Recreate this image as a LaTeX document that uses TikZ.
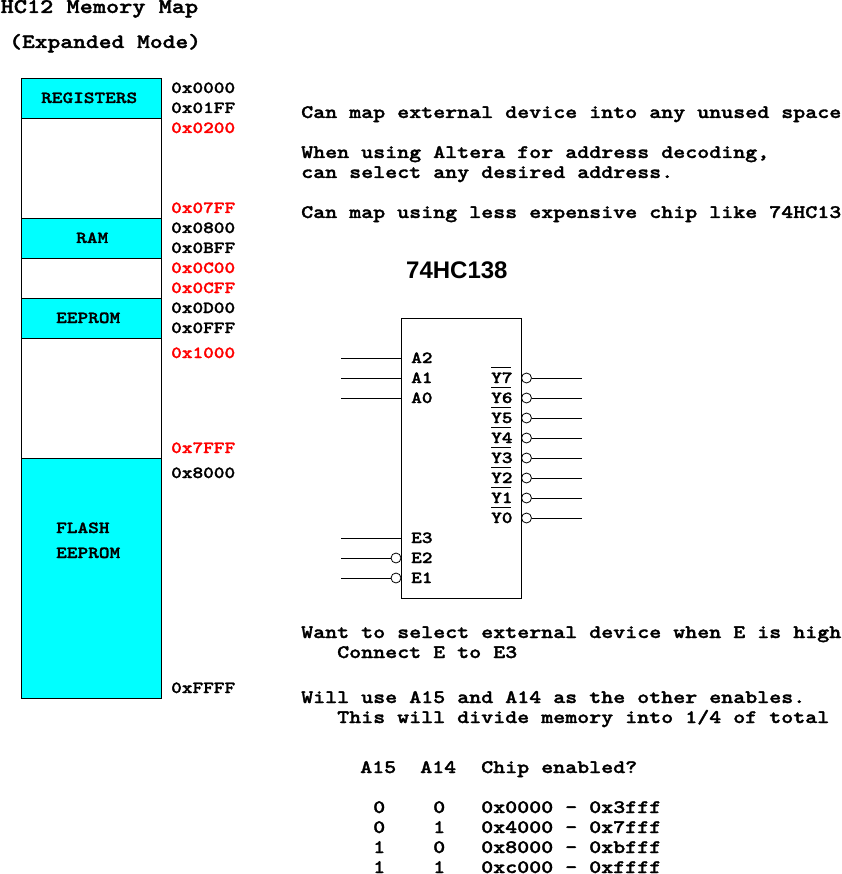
\documentclass[tikz,border=0pt]{standalone}
\usepackage{fontspec}
\setmainfont{Liberation Sans}
\newfontfamily\cour[Extension=.otf,FakeStretch=1.2,FakeBold=1.6]{lmmonolt10-bold}
\newcommand{\bigtxt}{\cour\fontsize{20.9}{24}\selectfont}
\newcommand{\bigtxtb}{\cour\fontsize{20.3}{24}\selectfont}
\newcommand{\midtxt}{\cour\fontsize{19.05}{22}\selectfont}
\newcommand{\smtxt}{\cour\fontsize{16.93}{20}\selectfont}
\newcommand{\ovl}[1]{\rlap{\raisebox{15pt}{\rule{20pt}{1pt}}}#1}
\definecolor{memcyan}{RGB}{0,255,255}
\tikzset{
  x=1pt,y=-1pt,
  title/.style={anchor=base west,inner sep=0,font=\bigtxt},
  titleb/.style={anchor=base west,inner sep=0,font=\bigtxtb},
  txt/.style={anchor=base west,inner sep=0,font=\midtxt},
  small/.style={anchor=base west,inner sep=0,font=\smtxt},
  addr/.style={small},
  addrred/.style={small,text=red},
  used/.style={draw=black,fill=memcyan,line width=1pt,minimum width=140pt,inner sep=0,anchor=north west},
  free/.style={draw=black,fill=white,line width=1pt,minimum width=140pt,inner sep=0,anchor=north west},
  chip/.style={draw=black,line width=1pt,minimum width=120pt,minimum height=280pt,inner sep=0,anchor=north west},
  bubble/.style={circle,draw=black,line width=0.8pt,minimum size=10pt,inner sep=0},
  pin/.style={line width=0.8pt},
}
\begin{document}
\begin{tikzpicture}
\useasboundingbox (0,0) rectangle (841,874);
\node[title] (t1) at (0.5,13) {HC12 Memory Map};
\node[titleb] (t2) at (9,48) {(Expanded Mode)};
% memory blocks
\node[used,minimum height=40pt] (m1) at (21,78) {};
\node[free,minimum height=100pt] (m2) at (21,118) {};
\node[used,minimum height=40pt] (m3) at (21,218) {};
\node[free,minimum height=40pt] (m4) at (21,258) {};
\node[used,minimum height=40pt] (m5) at (21,298) {};
\node[free,minimum height=120pt] (m6) at (21,338) {};
\node[used,minimum height=240pt] (m7) at (21,458) {};
\node[small] (l1) at (41,103) {REGISTERS};
\node[small] (l2) at (76,243) {RAM};
\node[small] (l3) at (56,323) {EEPROM};
\node[small] (l4) at (56,533) {FLASH};
\node[small] (l5) at (56,558) {EEPROM};
% addresses
\node[addr] (a1) at (171,93) {0x0000};
\node[addr] (a2) at (171,113) {0x01FF};
\node[addrred] (a3) at (171,133) {0x0200};
\node[addrred] (a4) at (171,213) {0x07FF};
\node[addr] (a5) at (171,233) {0x0800};
\node[addr] (a6) at (171,253) {0x0BFF};
\node[addrred] (a7) at (171,273) {0x0C00};
\node[addrred] (a8) at (171,293) {0x0CFF};
\node[addr] (a9) at (171,313) {0x0D00};
\node[addr] (a10) at (171,333) {0x0FFF};
\node[addrred] (a11) at (171,358) {0x1000};
\node[addrred] (a12) at (171,453) {0x7FFF};
\node[addr] (a13) at (171,478) {0x8000};
\node[addr] (a14) at (171,693) {0xFFFF};
% notes
\node[txt] (n1) at (301,118) {Can map external device into any unused space};
\node[txt] (n2) at (301,158) {When using Altera for address decoding,};
\node[txt] (n3) at (301,178) {can select any desired address.};
\node[txt] (n4) at (301,218) {Can map using less expensive chip like 74HC13};
\node[anchor=base west,inner sep=0,font=\bfseries\fontsize{24}{26}\selectfont] (ct) at (406,278) {74HC138};
% chip
\node[chip] (chip) at (401,318) {};
\foreach \n/\y in {A2/358,A1/378,A0/398,E3/538,E2/558,E1/578}{
  \node[small] (lab\n) at (411,\y+5) {\n};
}
\foreach \n/\y in {7/378,6/398,5/418,4/438,3/458,2/478,1/498,0/518}{
  \node[small] (labY\n) at (491,\y+5) {\ovl{Y\n}};
  \node[bubble] (bY\n) at (526.5,\y) {};
  \coordinate (eY\n) at (582,\y);
  \draw[pin] (bY\n.east) -- (eY\n);
}
\foreach \n/\y in {A2/358,A1/378,A0/398,E3/538}{
  \coordinate (s\n) at (341,\y);
  \coordinate (e\n) at (401,\y);
  \draw[pin] (s\n) -- (e\n);
}
\foreach \n/\y in {E2/558,E1/578}{
  \coordinate (s\n) at (341,\y);
  \node[bubble] (b\n) at (396,\y) {};
  \draw[pin] (s\n) -- (b\n.west);
}
% lower notes
\node[txt] (n5) at (301,638) {Want to select external device when E is high};
\node[txt] (n6) at (337,658) {Connect E to E3};
\node[txt] (n7) at (301,703) {Will use A15 and A14 as the other enables.};
\node[txt] (n8) at (337,723) {This will divide memory into 1/4 of total};
% table
\node[txt] (h1) at (360,773) {A15};
\node[txt] (h2) at (420,773) {A14};
\node[txt] (h3) at (481,773) {Chip enabled?};
\foreach \i/\a/\b/\r/\y in {1/0/0/0x0000 - 0x3fff/813,2/0/1/0x4000 - 0x7fff/833,3/1/0/0x8000 - 0xbfff/853,4/1/1/0xc000 - 0xffff/873}{
  \node[txt] (ra\i) at (373,\y) {\a};
  \node[txt] (rb\i) at (433,\y) {\b};
  \node[txt] (rc\i) at (481,\y) {\r};
}
\end{tikzpicture}
\end{document}
